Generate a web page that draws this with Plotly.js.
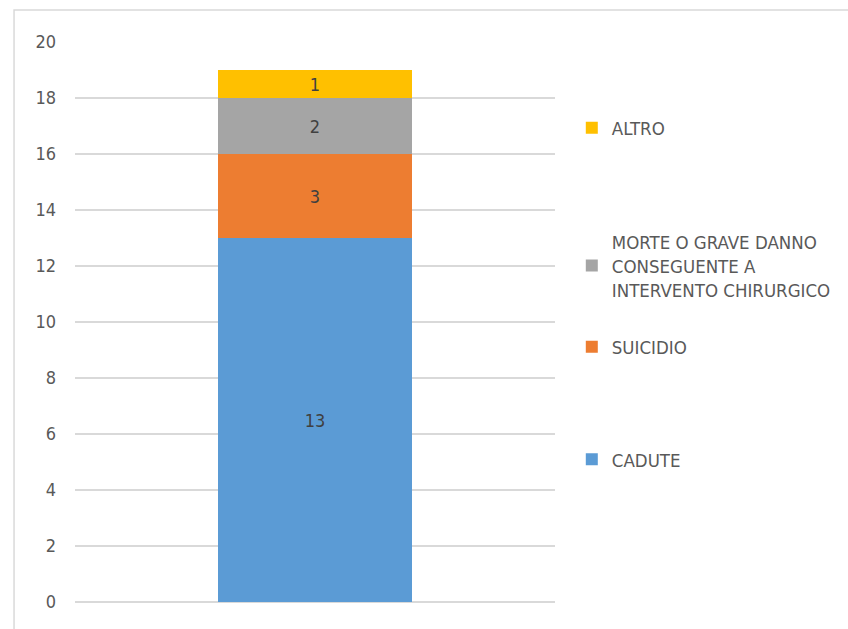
<!DOCTYPE html>
<html>
<head>
<meta charset="utf-8">
<script src="https://cdn.plot.ly/plotly-3.0.1.min.js"></script>
<style>html,body{margin:0;padding:0;background:#fff;}#chart{width:848px;height:629px;}</style>
</head>
<body>
<div id="chart"></div>
<script>
const categories = [""];
const seriesNames = ["CADUTE", "SUICIDIO", "MORTE O GRAVE DANNO<br>CONSEGUENTE A<br>INTERVENTO CHIRURGICO", "ALTRO"];
const cadute = [13];
const suicidio = [3];
const morte = [2];
const altro = [1];
const seriesValues = [cadute, suicidio, morte, altro];
const colors = ["#5B9BD5", "#ED7D31", "#A5A5A5", "#FFC000"];
const legendIds = ["legend4", "legend3", "legend2", "legend"];
const yTicks = [0, 2, 4, 6, 8, 10, 12, 14, 16, 18, 20];

const FONT = "'DejaVu Sans Condensed', 'Liberation Sans Narrow', sans-serif";

const traces = seriesValues.map((vals, i) => ({
  type: "bar",
  x: categories,
  y: vals,
  name: seriesNames[i],
  marker: {color: colors[i], line: {width: 0}},
  text: vals.map(String),
  textposition: "inside",
  insidetextanchor: "middle",
  textangle: 0,
  textfont: {family: FONT, size: 18, color: "#404040"},
  legend: legendIds[i],
  hoverinfo: "y+name"
}));

function leg(y) {
  return {x: 1.035, y: y, xanchor: "left", yanchor: "middle", bgcolor: "rgba(0,0,0,0)",
          font: {family: FONT, size: 18.5, color: "#595959"}, itemwidth: 30, borderwidth: 0};
}

const layout = {
  width: 848, height: 629,
  margin: {l: 75, r: 291, t: 42, b: 27},
  paper_bgcolor: "#ffffff",
  plot_bgcolor: "#ffffff",
  barmode: "stack",
  bargap: 0.595,
  showlegend: true,
  legend: leg(0.846),
  legend2: leg(0.6),
  legend3: leg(0.455),
  legend4: leg(0.254),
  xaxis: {showticklabels: false, showgrid: false, zeroline: false, showline: false, fixedrange: true},
  yaxis: {
    range: [0, 20], tickvals: yTicks, ticktext: yTicks.map(String),
    showgrid: true, gridcolor: "#d9d9d9", gridwidth: 1.3,
    zeroline: true, zerolinecolor: "#d9d9d9", zerolinewidth: 1.3,
    showline: false, ticks: "", ticklabelstandoff: 18,
    tickfont: {family: FONT, size: 18, color: "#595959"}
  },
  shapes: [{
    type: "rect", xref: "paper", yref: "paper",
    x0: -0.127, x1: 1.8, y0: -0.2, y1: 1.057,
    line: {color: "#d9d9d9", width: 1.5}, fillcolor: "rgba(0,0,0,0)", layer: "below"
  }]
};

Plotly.newPlot("chart", traces, layout, {displayModeBar: false, staticPlot: true});
</script>
</body>
</html>
